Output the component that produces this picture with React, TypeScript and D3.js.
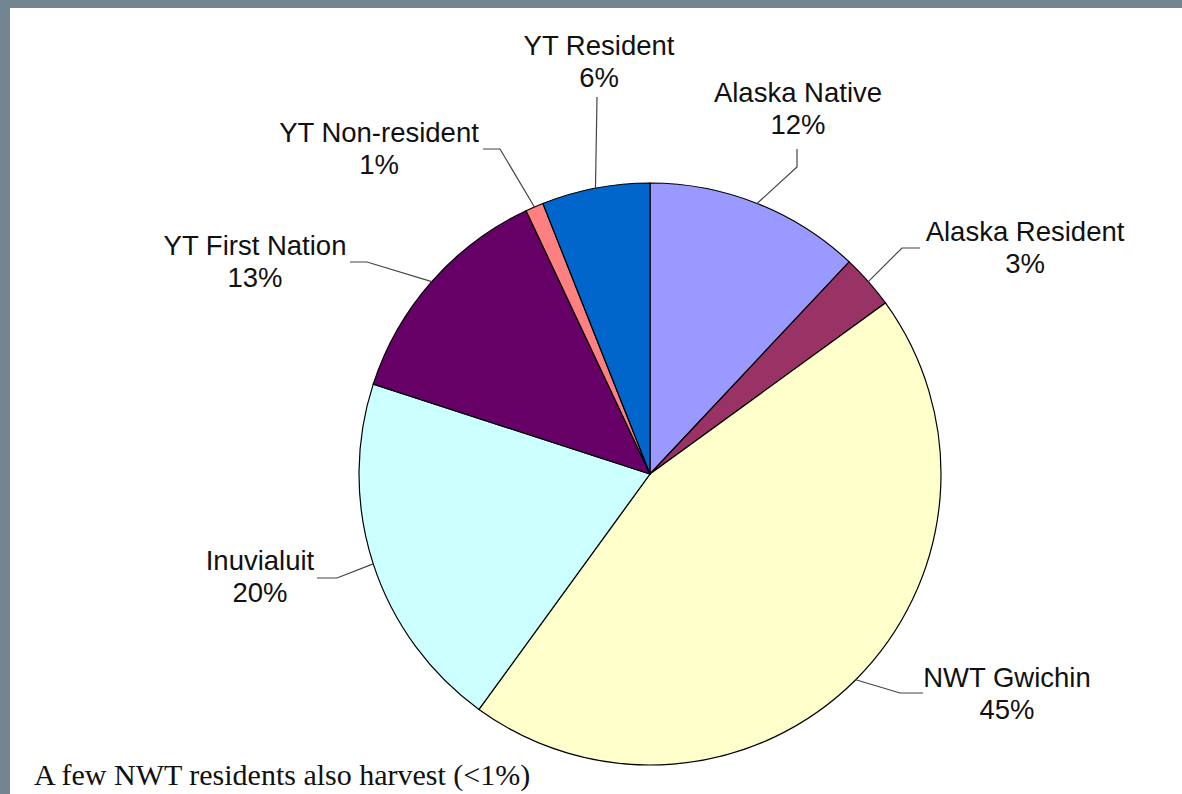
//@ts-nocheck
import { useEffect, useRef } from 'react';
import * as d3 from 'd3';

// data, clockwise from 12 o'clock
const categories = ['Alaska Native', 'Alaska Resident', 'NWT Gwichin', 'Inuvialuit', 'YT First Nation', 'YT Non-resident', 'YT Resident'];
const shares = [12, 3, 45, 20, 13, 1, 6];
const colors = ['#9999FF', '#993366', '#FFFFCC', '#CCFFFF', '#660066', '#FF8080', '#0066CC'];
const note = 'A few NWT residents also harvest (<1%)';

// label layout: centre x, first baseline, leader elbow + end
const labelLayout = [
    { x: 798, y: 102, elbow: [797, 167], end: [797, 149] },
    { x: 1025, y: 241, elbow: [902, 248], end: [920, 248] },
    { x: 1007, y: 687, elbow: [900, 693], end: [923, 693] },
    { x: 260, y: 570, elbow: [337, 578], end: [317, 578] },
    { x: 255, y: 255, elbow: [367, 262], end: [350, 262] },
    { x: 379, y: 142, elbow: [500, 149], end: [483, 149] },
    { x: 599, y: 55, elbow: null, end: [597, 97] },
];

const W = 1182;
const H = 794;

const App = () => {
    const svgRef = useRef();

    useEffect(() => {
        const svg = d3.select(svgRef.current);
        svg.selectAll('*').remove();

        // frame
        svg.append('rect').attr('width', W).attr('height', H).attr('fill', '#738591');
        svg.append('rect').attr('x', 10).attr('y', 8).attr('width', W - 10).attr('height', H - 8).attr('fill', '#ffffff');

        const cx = 650;
        const cy = 474;
        const r = 291;

        const pie = d3.pie().sort(null).value((d) => d.value);
        const arcs = pie(categories.map((c, i) => ({ name: c, value: shares[i], i })));
        const arc = d3.arc().innerRadius(0).outerRadius(r);
        const edge = d3.arc().innerRadius(r).outerRadius(r);

        const g = svg.append('g').attr('transform', `translate(${cx},${cy})`);
        g.selectAll('path')
            .data(arcs)
            .enter()
            .append('path')
            .attr('d', arc)
            .attr('fill', (d) => colors[d.data.i])
            .attr('stroke', '#000')
            .attr('stroke-width', 1.2);

        // leader lines
        arcs.forEach((d, i) => {
            const L = labelLayout[i];
            const p = edge.centroid(d);
            const pts = [[cx + p[0], cy + p[1]]];
            if (L.elbow) pts.push(L.elbow);
            pts.push(L.end);
            svg.append('path')
                .attr('d', d3.line()(pts))
                .attr('fill', 'none')
                .attr('stroke', '#444')
                .attr('stroke-width', 1.2);
        });

        // labels
        arcs.forEach((d, i) => {
            const L = labelLayout[i];
            const t = svg.append('text')
                .attr('text-anchor', 'middle')
                .style('font-family', '"Liberation Sans", Arial, sans-serif')
                .style('font-size', '27.5px')
                .attr('fill', '#111');
            t.append('tspan').attr('x', L.x).attr('y', L.y).text(d.data.name);
            t.append('tspan').attr('x', L.x).attr('y', L.y + 32).text(`${d.data.value}%`);
        });

        svg.append('text')
            .attr('x', 34)
            .attr('y', 785)
            .style('font-family', '"Liberation Serif", "Times New Roman", serif')
            .style('font-size', '30px')
            .attr('fill', '#111')
            .text(note);
    }, []);

    return (
        <svg ref={svgRef} width={W} height={H} style={{ position: 'absolute', left: 0, top: 0 }}></svg>
    );
};

export default App;
